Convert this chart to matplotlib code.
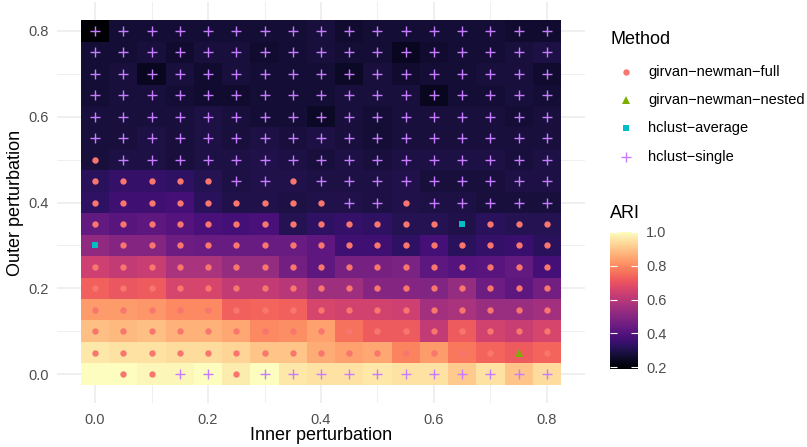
import numpy as np
import matplotlib
matplotlib.use("Agg")
import matplotlib.pyplot as plt
from matplotlib.lines import Line2D
from matplotlib.colors import Normalize

plt.rcParams["font.family"] = ["Liberation Sans", "DejaVu Sans"]

inner = [round(0.05 * i, 2) for i in range(17)]
outer = [round(0.05 * i, 2) for i in range(17)]

# ARI values, rows from outer = 0.00 (first) to 0.80 (last)
ari = [
    [1.00, 1.00, 0.99, 0.99, 1.00, 0.97, 1.00, 0.96, 0.95, 0.95, 0.96, 0.95, 0.95, 0.91, 0.95, 0.90, 0.94],
    [0.96, 0.95, 0.95, 0.94, 0.94, 0.93, 0.90, 0.90, 0.86, 0.84, 0.85, 0.79, 0.83, 0.77, 0.74, 0.72, 0.74],
    [0.89, 0.88, 0.89, 0.87, 0.87, 0.85, 0.80, 0.81, 0.84, 0.76, 0.72, 0.72, 0.62, 0.72, 0.65, 0.63, 0.66],
    [0.83, 0.83, 0.82, 0.80, 0.80, 0.73, 0.74, 0.73, 0.66, 0.65, 0.65, 0.64, 0.56, 0.57, 0.54, 0.54, 0.56],
    [0.73, 0.71, 0.72, 0.66, 0.66, 0.62, 0.62, 0.60, 0.55, 0.55, 0.50, 0.50, 0.49, 0.53, 0.45, 0.42, 0.46],
    [0.64, 0.62, 0.63, 0.57, 0.57, 0.53, 0.53, 0.46, 0.42, 0.47, 0.47, 0.48, 0.42, 0.40, 0.41, 0.43, 0.37],
    [0.52, 0.50, 0.50, 0.45, 0.44, 0.44, 0.44, 0.44, 0.42, 0.36, 0.36, 0.33, 0.37, 0.32, 0.34, 0.35, 0.32],
    [0.43, 0.41, 0.42, 0.40, 0.38, 0.37, 0.38, 0.31, 0.33, 0.34, 0.33, 0.31, 0.31, 0.30, 0.32, 0.31, 0.31],
    [0.33, 0.36, 0.36, 0.37, 0.32, 0.30, 0.30, 0.29, 0.30, 0.30, 0.29, 0.30, 0.29, 0.29, 0.28, 0.28, 0.28],
    [0.32, 0.34, 0.34, 0.33, 0.31, 0.29, 0.30, 0.30, 0.29, 0.29, 0.29, 0.30, 0.28, 0.28, 0.28, 0.29, 0.29],
    [0.28, 0.29, 0.29, 0.28, 0.29, 0.29, 0.30, 0.29, 0.28, 0.29, 0.28, 0.29, 0.29, 0.29, 0.29, 0.28, 0.29],
    [0.28, 0.28, 0.29, 0.28, 0.29, 0.28, 0.29, 0.28, 0.29, 0.28, 0.27, 0.28, 0.28, 0.28, 0.28, 0.28, 0.28],
    [0.28, 0.28, 0.28, 0.28, 0.29, 0.28, 0.27, 0.27, 0.25, 0.28, 0.27, 0.28, 0.28, 0.28, 0.28, 0.27, 0.28],
    [0.27, 0.28, 0.28, 0.27, 0.26, 0.26, 0.27, 0.27, 0.27, 0.28, 0.28, 0.28, 0.24, 0.27, 0.27, 0.28, 0.27],
    [0.27, 0.28, 0.24, 0.28, 0.26, 0.28, 0.27, 0.27, 0.27, 0.25, 0.28, 0.26, 0.27, 0.27, 0.28, 0.28, 0.26],
    [0.27, 0.27, 0.28, 0.26, 0.28, 0.28, 0.26, 0.27, 0.28, 0.27, 0.27, 0.24, 0.26, 0.27, 0.27, 0.28, 0.29],
    [0.19, 0.27, 0.27, 0.27, 0.27, 0.27, 0.27, 0.27, 0.28, 0.26, 0.27, 0.27, 0.27, 0.27, 0.27, 0.26, 0.26],
]

# Best method per cell: F=girvan-newman-full, N=girvan-newman-nested,
# A=hclust-average, S=hclust-single, -=none
best = [
    "-FFSSFSSSSSSSSSSS",
    "FFFFFFFFFFFFFFFNF",
    "FFFFFFFFFFFFFFFFF",
    "FFFFFFFFFFFFFFFFF",
    "FFFFFFFFFFFFFFFFF",
    "FFFFFFFFFFFFFFFFF",
    "AFFFFFFFFFFFFFFFF",
    "FFFFFFFFFFFFFAFFF",
    "FFFFFFFFFSSFSSSSS",
    "FFFFFSSFSSSSSSSSS",
    "FSSSSSSSSSSSSSSSS",
    "SSSSSSSSSSSSSSSSS",
    "SSSSSSSSSSSSSSSSS",
    "SSSSSSSSSSSSSSSSS",
    "SSSSSSSSSSSSSSSSS",
    "SSSSSSSSSSSSSSSSS",
    "SSSSSSSSSSSSSSSSS",
]

methods = ["girvan\u2212newman\u2212full", "girvan\u2212newman\u2212nested",
           "hclust\u2212average", "hclust\u2212single"]
codes = ["F", "N", "A", "S"]
colors = ["#F8766D", "#7CAE00", "#00BFC4", "#C77CFF"]
markers = ["o", "^", "s", "+"]
msizes = [4.6, 5.2, 5.0, 7.6]

W, H = 807, 447
fig = plt.figure(figsize=(W / 100, H / 100), dpi=100)
ax = fig.add_axes([57 / W, 44 / H, 528 / W, 401 / H])

norm = Normalize(vmin=0.19, vmax=1.0)
Z = np.array(ari)
mesh = ax.pcolormesh(inner, outer, Z, cmap="magma", norm=norm, shading="nearest", zorder=2)

xs = np.array(inner)
ys = np.array(outer)
for code, col, mk, ms in zip(codes, colors, markers, msizes):
    px, py = [], []
    for j, row in enumerate(best):
        for i, c in enumerate(row):
            if c == code:
                px.append(xs[i]); py.append(ys[j])
    ax.plot(px, py, linestyle="none", marker=mk, color=col, markersize=ms,
            markeredgewidth=1.0 if mk == "+" else 0, zorder=3)

ax.set_xlim(-0.0675, 0.8675)
ax.set_ylim(-0.0675, 0.8675)
ax.set_xticks([0, 0.2, 0.4, 0.6, 0.8])
ax.set_yticks([0, 0.2, 0.4, 0.6, 0.8])
ax.set_xticks([0.1, 0.3, 0.5, 0.7], minor=True)
ax.set_yticks([0.1, 0.3, 0.5, 0.7], minor=True)
ax.set_xticklabels(["0.0", "0.2", "0.4", "0.6", "0.8"])
ax.set_yticklabels(["0.0", "0.2", "0.4", "0.6", "0.8"])
ax.grid(True, which="major", color="#EBEBEB", linewidth=1.1, zorder=0)
ax.grid(True, which="minor", color="#EBEBEB", linewidth=0.55, zorder=0)
ax.set_axisbelow(True)
for s in ax.spines.values():
    s.set_visible(False)
ax.tick_params(which="both", length=0, labelsize=10.5, labelcolor="#4D4D4D")
ax.tick_params(axis="x", pad=7)
ax.tick_params(axis="y", pad=6)
ax.set_xlabel("Inner perturbation", fontsize=13, labelpad=0)
ax.set_ylabel("Outer perturbation", fontsize=13, labelpad=3)

# Legend for methods (drawn in figure coordinates)
fig.text(610 / W, 1 - 40 / H, "Method", fontsize=13, va="center", ha="left")
legend_rows = [72, 100, 128, 157]
for yrow, lab, col, mk, ms in zip(legend_rows, methods, colors, markers, msizes):
    fig.add_artist(Line2D([626 / W], [1 - yrow / H], transform=fig.transFigure,
                          linestyle="none", marker=mk, color=col, markersize=ms,
                          markeredgewidth=1.0 if mk == "+" else 0))
    fig.text(648 / W, 1 - yrow / H, lab, fontsize=10.5, va="center", ha="left")

cax = fig.add_axes([610 / W, (H - 369) / H, 28 / W, 137 / H])
cb = fig.colorbar(mesh, cax=cax)
cb.outline.set_visible(False)
cb.set_ticks([0.2, 0.4, 0.6, 0.8, 1.0])
cb.set_ticklabels(["0.2", "0.4", "0.6", "0.8", "1.0"])
cax.tick_params(which="major", direction="in", length=5, width=0.8, color="white",
                left=True, right=True, labelsize=10.5, labelcolor="#4D4D4D", pad=6)
cax.tick_params(which="minor", length=0)
fig.text(610 / W, 1 - 214 / H, "ARI", fontsize=13, va="center", ha="left")

fig.savefig("out.png", dpi=100, facecolor="white")
